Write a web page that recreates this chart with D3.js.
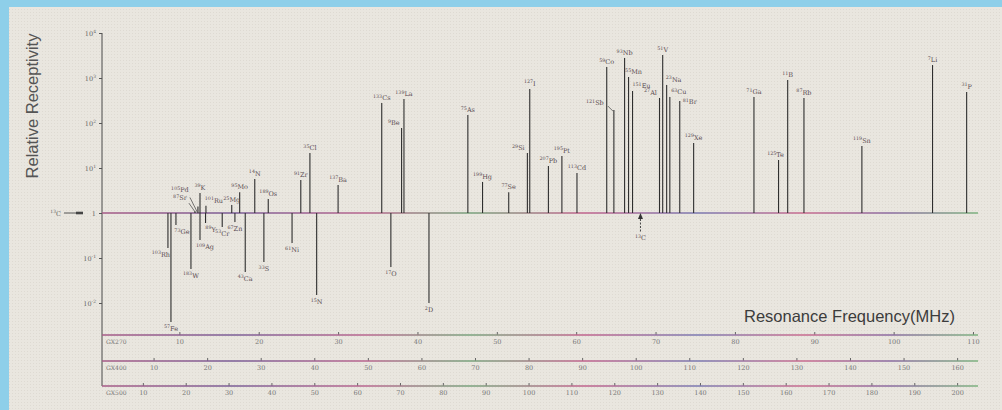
<!DOCTYPE html>
<html>
<head>
<meta charset="utf-8">
<script src="https://cdn.jsdelivr.net/npm/d3@7/dist/d3.min.js"></script>
<style>
  html, body { margin: 0; padding: 0; background: #8ecfe9; }
  svg { display: block; }
</style>
</head>
<body>
<svg id="chart" width="1002" height="410"></svg>
<script>
// nuclei, resonance frequency at GX270 (MHz), receptivity relative to 13C
const nuclei = ["103Rh", "57Fe", "73Ge", "183W", "87Sr", "105Pd", "39K", "109Ag", "89Y", "101Ru",
  "53Cr", "25Mg", "67Zn", "95Mo", "43Ca", "14N", "33S", "189Os", "61Ni", "91Zr",
  "35Cl", "15N", "137Ba", "133Cs", "17O", "9Be", "139La", "2D", "75As", "199Hg",
  "77Se", "29Si", "127I", "207Pb", "195Pt", "113Cd", "59Co", "121Sb", "93Nb", "55Mn",
  "151Eu", "27Al", "51V", "23Na", "63Cu", "81Br", "129Xe", "71Ga", "125Te", "11B",
  "87Rb", "119Sn", "7Li", "31P"];
const freq270 = [8.56, 8.94, 9.57, 11.46, 11.96, 12.34, 12.6, 12.6, 13.3, 13.35,
  15.4, 16.6, 17.0, 17.6, 18.3, 19.5, 20.65, 21.2, 24.2, 25.3,
  26.45, 27.3, 30.0, 35.5, 36.65, 38.0, 38.3, 41.45, 46.35, 48.2,
  51.5, 53.85, 54.15, 56.5, 58.2, 60.1, 63.85, 64.75, 66.1, 66.6,
  67.1, 70.5, 70.9, 71.4, 71.8, 73.05, 74.8, 82.4, 85.5, 86.65,
  88.7, 96.0, 104.9, 109.2];
const receptivity = [0.167, 0.0038, 0.54, 0.057, 1.1, 1.4, 2.8, 0.25, 0.6, 1.45,
  0.49, 1.5, 0.63, 2.9, 0.049, 5.7, 0.081, 2.05, 0.215, 5.4,
  21.5, 0.015, 4.2, 278, 0.063, 77, 341, 0.01, 150, 4.9,
  2.9, 21.5, 570, 11.1, 18.5, 7.7, 1750, 194, 2780, 1050,
  514, 360, 3240, 700, 378, 308, 36, 378, 15, 900,
  360, 31, 1940, 489];

const refNucleus = "13C";
const refFreq = 68.1;

const yTickValues = [1e-2, 1e-1, 1, 1e1, 1e2, 1e3, 1e4];
const gx270Ticks = [10, 20, 30, 40, 50, 60, 70, 80, 90, 100, 110];
const gx400Ticks = [10, 20, 30, 40, 50, 60, 70, 80, 90, 100, 110, 120, 130, 140, 150, 160];
const gx500Ticks = [10, 20, 30, 40, 50, 60, 70, 80, 90, 100, 110, 120, 130, 140, 150, 160, 170, 180, 190, 200];
const spectrometers = ["GX270", "GX400", "GX500"];
const protonFreqs = [270, 400, 500];

// label tweaks where the printed labels sit off-centre
const labelNudge = {
  "9Be": { dx: -2, anchor: "end" },
  "55Mn": { dx: 5 },
  "151Eu": { dx: 9 },
  "27Al": { dx: -9 },
  "23Na": { dx: 7 },
  "63Cu": { dx: 9 },
  "81Br": { dx: 3, dy: 6, anchor: "start" },
  "29Si": { dx: -9 },
  "101Ru": { dx: 8 },
  "125Te": { dx: -3 },
  "103Rh": { dx: -7 },
  "73Ge": { dx: 6 },
  "109Ag": { dx: 5 },
  "89Y": { dx: 5 },
  "105Pd": { dx: -18, dy: -11, leader: [-8, -9, 0, 7] },
  "87Sr": { dx: -15, dy: -8, leader: [-6, -8, 1, 2] },
  "121Sb": { dx: -19, dy: -2, leader: [-6, -4, -1, 1] }
};

const svg = d3.select("svg#chart");
const W = +svg.attr("width");
const H = +svg.attr("height");

const axisLeftX = 102;
const axisRightX = 978;
const freqAxisY = [335, 361, 386];

const x = d3.scaleLinear().domain([0, 110]).range([100, 973]);
const y = d3.scaleLog().domain([1e-2, 1e4]).range([303, 33]);
const baseY = y(1);

const defs = svg.append("defs");

// printed-look colour fringe on the long rules
const grad = defs
  .append("linearGradient")
  .attr("id", "fringe")
  .attr("gradientUnits", "userSpaceOnUse")
  .attr("x1", axisLeftX)
  .attr("x2", axisRightX)
  .attr("y1", 0)
  .attr("y2", 0);
[
  ["0", "#a65a86"], ["0.15", "#7a5d96"], ["0.3", "#b8648e"], ["0.42", "#78a27c"],
  ["0.55", "#c0628c"], ["0.68", "#7a78b0"], ["0.8", "#c86a8e"], ["0.9", "#8a6aa0"], ["1", "#7cb27e"]
].forEach((s) => grad.append("stop").attr("offset", s[0]).attr("stop-color", s[1]));

// paper texture
const pat = defs
  .append("pattern")
  .attr("id", "paper")
  .attr("width", 3)
  .attr("height", 3)
  .attr("patternUnits", "userSpaceOnUse");
pat.append("rect").attr("width", 3).attr("height", 3).attr("fill", "#e9e6df");
pat.append("rect").attr("width", 1).attr("height", 1).attr("fill", "#dedad2");

svg.append("rect").attr("width", W).attr("height", H).attr("fill", "#8ecfe9");
svg.append("rect").attr("x", 9).attr("y", 7).attr("width", W - 9).attr("height", H - 7).attr("fill", "url(#paper)");

// y axis title
svg
  .append("text")
  .attr("transform", "translate(38,106) rotate(-90)")
  .attr("text-anchor", "middle")
  .attr("font-family", "Liberation Sans, Arial, sans-serif")
  .attr("font-size", 16.5)
  .attr("fill", "#555")
  .text("Relative Receptivity");

// x axis title
svg
  .append("text")
  .attr("x", 744)
  .attr("y", 322)
  .attr("font-family", "Liberation Sans, Arial, sans-serif")
  .attr("font-size", 16.5)
  .attr("fill", "#3c3c3c")
  .text("Resonance Frequency(MHz)");

// y axis
svg
  .append("line")
  .attr("x1", axisLeftX)
  .attr("x2", axisLeftX)
  .attr("y1", y(1e4))
  .attr("y2", freqAxisY[2])
  .attr("stroke", "#4a4a4a")
  .attr("stroke-width", 1);

const yAxis = svg
  .append("g")
  .attr("transform", `translate(${axisLeftX},0)`)
  .call(d3.axisLeft(y).tickValues(yTickValues).tickSize(3).tickFormat(""));
yAxis.select(".domain").remove();
yAxis.selectAll(".tick line").attr("stroke", "#555");

const yLabels = svg
  .append("g")
  .selectAll("text")
  .data(yTickValues)
  .join("text")
  .attr("x", 96)
  .attr("y", (d) => y(d) + 2.5)
  .attr("text-anchor", "end")
  .attr("font-family", "DejaVu Serif, serif")
  .attr("font-size", 6.5)
  .attr("fill", "#666");
yLabels.each(function (d) {
  const t = d3.select(this);
  const e = Math.round(Math.log10(d));
  if (e === 0) {
    t.text("1");
  } else {
    t.append("tspan").text("10");
    t.append("tspan").attr("font-size", 4.5).attr("dy", -3).text(e);
  }
});

// "13C -> 1"
svg
  .append("text")
  .attr("x", 61)
  .attr("y", baseY + 2.5)
  .attr("text-anchor", "end")
  .attr("font-family", "DejaVu Serif, serif")
  .attr("font-size", 6.5)
  .attr("fill", "#666")
  .call((t) => {
    t.append("tspan").attr("font-size", 4.5).attr("dy", -3).text("13");
    t.append("tspan").attr("dy", 3).text("C");
  });
svg.append("line").attr("x1", 64).attr("x2", 77).attr("y1", baseY).attr("y2", baseY).attr("stroke", "#555").attr("stroke-width", 1);
svg.append("rect").attr("x", 76).attr("y", baseY - 1.3).attr("width", 7).attr("height", 2.6).attr("fill", "#444");

// baseline (receptivity = 1)
svg
  .append("line")
  .attr("x1", axisLeftX)
  .attr("x2", axisRightX)
  .attr("y1", baseY)
  .attr("y2", baseY)
  .attr("stroke", "url(#fringe)")
  .attr("stroke-width", 1.4);

// frequency axes for each spectrometer
spectrometers.forEach((name, i) => {
  const scale = d3
    .scaleLinear()
    .domain([0, (110 * protonFreqs[i]) / 270])
    .range(x.range());
  const ticks = [gx270Ticks, gx400Ticks, gx500Ticks][i];
  const g = svg
    .append("g")
    .attr("transform", `translate(0,${freqAxisY[i]})`)
    .call(d3.axisBottom(scale).tickValues(ticks).tickSize(-3).tickPadding(4).tickFormat(d3.format("d")));
  g.select(".domain").remove();
  g.selectAll(".tick line").attr("stroke", "#666");
  g.selectAll(".tick text")
    .attr("font-family", "DejaVu Serif, serif")
    .attr("font-size", 6.5)
    .attr("fill", "#777");

  svg
    .append("line")
    .attr("x1", axisLeftX)
    .attr("x2", axisRightX)
    .attr("y1", freqAxisY[i])
    .attr("y2", freqAxisY[i])
    .attr("stroke", "url(#fringe)")
    .attr("stroke-width", 1.4);

  svg
    .append("text")
    .attr("x", 106)
    .attr("y", freqAxisY[i] + 9)
    .attr("font-family", "DejaVu Serif, serif")
    .attr("font-size", 6)
    .attr("fill", "#777")
    .text(name);
});

// peaks
const peaks = nuclei.map((n, i) => {
  const m = n.match(/^(\d+)(\D+)$/);
  return { name: n, mass: m[1], sym: m[2], f: freq270[i], r: receptivity[i] };
});

svg
  .append("g")
  .attr("class", "peaks")
  .selectAll("line")
  .data(peaks)
  .join("line")
  .attr("x1", (d) => x(d.f))
  .attr("x2", (d) => x(d.f))
  .attr("y1", baseY)
  .attr("y2", (d) => y(d.r))
  .attr("stroke", "#2e2e2e")
  .attr("stroke-width", 1.1);

const labelG = svg.append("g").attr("class", "labels");
peaks.forEach((d) => {
  const nudge = labelNudge[d.name] || {};
  const sx = x(d.f);
  const ey = y(d.r);
  const up = d.r >= 1;
  const lx = sx + (nudge.dx || 0);
  const ly = (up ? ey - 3 : ey + 9) + (nudge.dy || 0);
  const t = labelG
    .append("text")
    .attr("x", lx)
    .attr("y", ly)
    .attr("text-anchor", nudge.anchor || "middle")
    .attr("font-family", "DejaVu Serif, serif")
    .attr("font-size", 6.5)
    .attr("fill", "#5a4c52");
  t.append("tspan").attr("font-size", 4.8).attr("dy", -2.5).text(d.mass);
  t.append("tspan").attr("dy", 2.5).text(d.sym);
  if (nudge.leader) {
    const L = nudge.leader;
    labelG
      .append("line")
      .attr("x1", sx + L[0])
      .attr("y1", ey + L[1])
      .attr("x2", sx + L[2])
      .attr("y2", ey + L[3])
      .attr("stroke", "#555")
      .attr("stroke-width", 0.8);
  }
});

// 13C reference marker
const rx = x(refFreq);
svg
  .append("path")
  .attr("d", `M${rx},${baseY} L${rx - 2.5},${baseY + 6} L${rx + 2.5},${baseY + 6} Z`)
  .attr("fill", "#333");
svg
  .append("line")
  .attr("x1", rx)
  .attr("x2", rx)
  .attr("y1", baseY + 6)
  .attr("y2", baseY + 19)
  .attr("stroke", "#444")
  .attr("stroke-width", 1)
  .attr("stroke-dasharray", "2,1.5");
svg
  .append("text")
  .attr("x", rx)
  .attr("y", baseY + 27)
  .attr("text-anchor", "middle")
  .attr("font-family", "DejaVu Serif, serif")
  .attr("font-size", 6.5)
  .attr("fill", "#5a4c52")
  .call((t) => {
    t.append("tspan").attr("font-size", 4.8).attr("dy", -2.5).text(refNucleus.slice(0, 2));
    t.append("tspan").attr("dy", 2.5).text(refNucleus.slice(2));
  });
</script>
</body>
</html>
